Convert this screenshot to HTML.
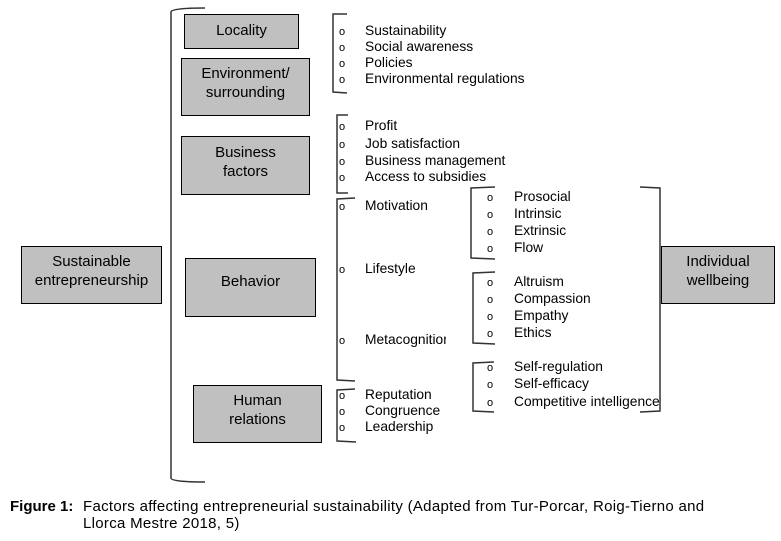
<!DOCTYPE html>
<html><head><meta charset="utf-8"><style>
body{margin:0;width:781px;height:541px;background:#fff;position:relative;overflow:hidden;font-family:"Liberation Sans",Arial,sans-serif;}
.b{position:absolute;background:#c0c0c0;border:1px solid #000;box-sizing:border-box;display:flex;align-items:center;justify-content:center;text-align:center;font-size:15px;line-height:19px;color:#000;padding-bottom:8px;}
.t{position:absolute;font-size:13.8px;line-height:16px;white-space:nowrap;color:#000;}
.o{position:absolute;font-size:11px;line-height:16px;color:#000;}
svg{position:absolute;left:0;top:0;}
.cap{position:absolute;font-size:15px;line-height:17px;white-space:nowrap;letter-spacing:0.3px;}
</style></head><body>
<svg width="781" height="541" fill="none" stroke="#333" stroke-width="1.5">
<path d="M205,8 Q171,8 171,12 L171,478 Q171,482 205,482"/>
<path d="M347,14 L333,14 L333,92 L347,93"/>
<path d="M348,115 L337,115 L337,193 L348,193"/>
<path d="M355,198 L337,199 L337,380 L355,381"/>
<path d="M355,389 L337,390 L337,441 L356,442"/>
<path d="M495,187 L471,188 L471,258 L495,259"/>
<path d="M495,272 L473,273 L473,343 L495,344"/>
<path d="M494,362 L473,363 L473,411 L494,412"/>
<path d="M640,187 L660,188 L660,411 L640,412"/>
</svg>
<div class="b" style="left:184px;top:14px;width:115px;height:35px;padding-bottom:3px">Locality</div>
<div class="b" style="left:181px;top:58px;width:129px;height:58px;">Environment/<br>surrounding</div>
<div class="b" style="left:181px;top:136px;width:129px;height:59px;">Business<br>factors</div>
<div class="b" style="left:185px;top:258px;width:131px;height:59px;padding-bottom:13px">Behavior</div>
<div class="b" style="left:193px;top:385px;width:129px;height:58px;">Human<br>relations</div>
<div class="b" style="left:21px;top:246px;width:141px;height:58px;">Sustainable<br>entrepreneurship</div>
<div class="b" style="left:661px;top:246px;width:114px;height:58px;">Individual<br>wellbeing</div>

<div class="o" style="left:339px;top:24px">o</div><div class="t" style="left:365px;top:23px">Sustainability</div>
<div class="o" style="left:339px;top:40px">o</div><div class="t" style="left:365px;top:39px">Social awareness</div>
<div class="o" style="left:339px;top:56px">o</div><div class="t" style="left:365px;top:55px">Policies</div>
<div class="o" style="left:339px;top:72px">o</div><div class="t" style="left:365px;top:71px">Environmental regulations</div>

<div class="o" style="left:339px;top:119px">o</div><div class="t" style="left:365px;top:118px">Profit</div>
<div class="o" style="left:339px;top:137px">o</div><div class="t" style="left:365px;top:136px">Job satisfaction</div>
<div class="o" style="left:339px;top:154px">o</div><div class="t" style="left:365px;top:153px">Business management</div>
<div class="o" style="left:339px;top:170px">o</div><div class="t" style="left:365px;top:169px">Access to subsidies</div>

<div class="o" style="left:339px;top:199px">o</div><div class="t" style="left:365px;top:198px">Motivation</div>
<div class="o" style="left:339px;top:262px">o</div><div class="t" style="left:365px;top:261px">Lifestyle</div>
<div class="o" style="left:339px;top:333px">o</div><div class="t" style="left:365px;top:332px;width:81px;overflow:hidden">Metacognition</div>

<div class="o" style="left:339px;top:388px">o</div><div class="t" style="left:365px;top:387px">Reputation</div>
<div class="o" style="left:339px;top:404px">o</div><div class="t" style="left:365px;top:403px">Congruence</div>
<div class="o" style="left:339px;top:420px">o</div><div class="t" style="left:365px;top:419px">Leadership</div>

<div class="o" style="left:487px;top:190px">o</div><div class="t" style="left:514px;top:189px">Prosocial</div>
<div class="o" style="left:487px;top:207px">o</div><div class="t" style="left:514px;top:206px">Intrinsic</div>
<div class="o" style="left:487px;top:224px">o</div><div class="t" style="left:514px;top:223px">Extrinsic</div>
<div class="o" style="left:487px;top:241px">o</div><div class="t" style="left:514px;top:240px">Flow</div>

<div class="o" style="left:487px;top:275px">o</div><div class="t" style="left:514px;top:274px">Altruism</div>
<div class="o" style="left:487px;top:292px">o</div><div class="t" style="left:514px;top:291px">Compassion</div>
<div class="o" style="left:487px;top:309px">o</div><div class="t" style="left:514px;top:308px">Empathy</div>
<div class="o" style="left:487px;top:326px">o</div><div class="t" style="left:514px;top:325px">Ethics</div>

<div class="o" style="left:487px;top:360px">o</div><div class="t" style="left:514px;top:359px">Self-regulation</div>
<div class="o" style="left:487px;top:377px">o</div><div class="t" style="left:514px;top:376px">Self-efficacy</div>
<div class="o" style="left:487px;top:395px">o</div><div class="t" style="left:514px;top:394px;width:146px;overflow:hidden">Competitive intelligence</div>

<div class="cap" style="left:10px;top:498px;font-weight:bold;letter-spacing:0">Figure 1:</div>
<div class="cap" style="left:83px;top:498px">Factors affecting entrepreneurial sustainability (Adapted from Tur-Porcar, Roig-Tierno and</div>
<div class="cap" style="left:83px;top:515px">Llorca Mestre 2018, 5)</div>
</body></html>
